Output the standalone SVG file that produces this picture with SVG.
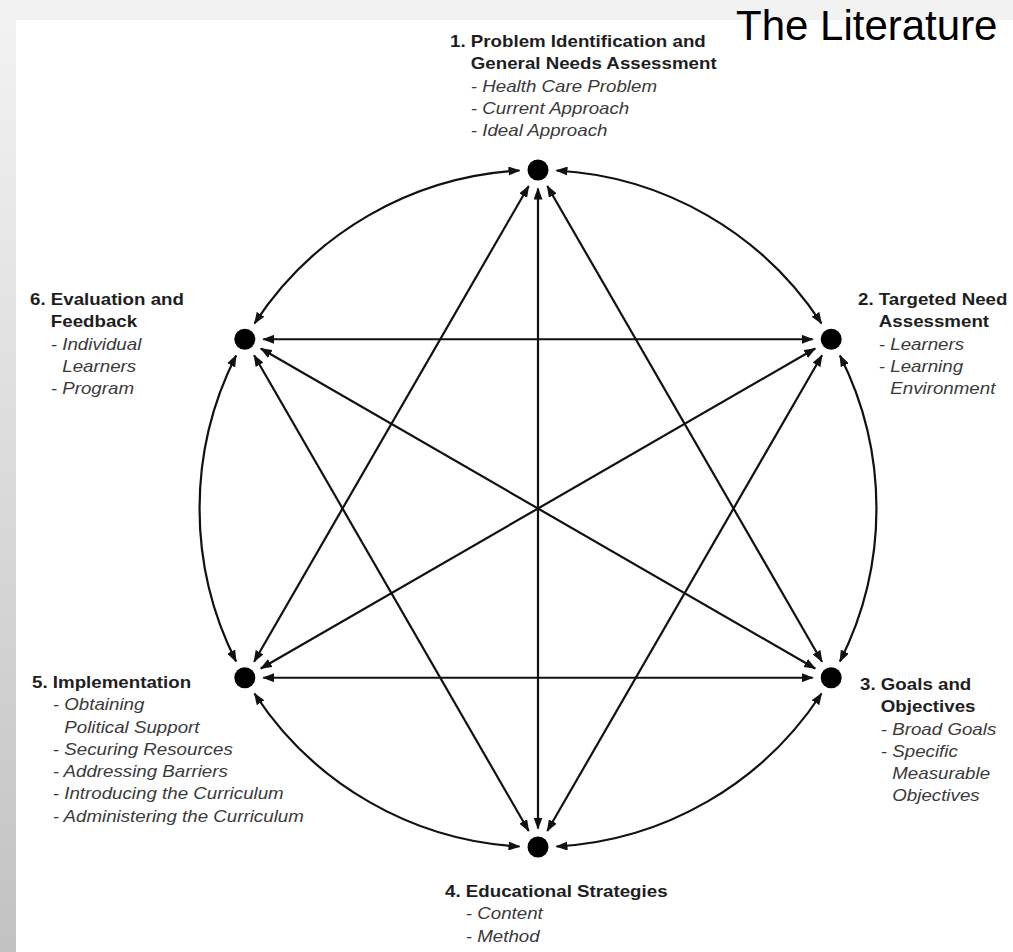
<svg xmlns="http://www.w3.org/2000/svg" width="1013" height="952" viewBox="0 0 1013 952">
<defs>
<linearGradient id="strip" x1="0" y1="0" x2="0" y2="1">
<stop offset="0" stop-color="#f3f3f3"/>
<stop offset="1" stop-color="#c2c2c2"/>
</linearGradient>
<marker id="ah" viewBox="0 0 12 9" refX="11" refY="4.5" markerWidth="12" markerHeight="9" markerUnits="userSpaceOnUse" orient="auto-start-reverse">
<path d="M0,0 L12,4.5 L0,9 z" fill="#111"/>
</marker>
<style>
.hd{font-family:"Liberation Sans",Arial,Helvetica,sans-serif;font-weight:bold;font-size:16px;fill:#1e1e1e}
.it{font-family:"Liberation Sans",Arial,Helvetica,sans-serif;font-style:italic;font-weight:normal;font-size:16px;fill:#3a3a3a}
.edge{fill:none;stroke:#111;stroke-width:2.2;marker-start:url(#ah);marker-end:url(#ah)}
.dot{fill:#000}
.title{font-family:"Liberation Sans",Arial,sans-serif;font-size:42px;fill:#000}
</style>
</defs>
<g id="background">
<rect x="0" y="0" width="1013" height="952" fill="#f2f2f2"/>
<rect x="0" y="0" width="16" height="952" fill="url(#strip)"/>
<rect x="16" y="20" width="997" height="932" fill="#ffffff"/>
</g>
<g id="title"><text class="title" x="736" y="40">The Literature</text></g>
<g id="connectors">
<path class="edge" d="M556.5,170.5 A338.5,338.5 0 0 1 821.5,323.5"/>
<path class="edge" d="M839.9,355.5 A338.5,338.5 0 0 1 839.9,661.5"/>
<path class="edge" d="M821.5,693.5 A338.5,338.5 0 0 1 556.5,846.5"/>
<path class="edge" d="M519.5,846.5 A338.5,338.5 0 0 1 254.5,693.5"/>
<path class="edge" d="M236.1,661.5 A338.5,338.5 0 0 1 236.1,355.5"/>
<path class="edge" d="M254.5,323.5 A338.5,338.5 0 0 1 519.5,170.5"/>
<path class="edge" d="M547.3,186 L822,661.7"/>
<path class="edge" d="M538,188.5 L538,828.5"/>
<path class="edge" d="M528.7,186 L254.1,661.7"/>
<path class="edge" d="M822,355.3 L547.3,831"/>
<path class="edge" d="M815.2,348.5 L260.8,668.5"/>
<path class="edge" d="M812.7,339.25 L263.3,339.25"/>
<path class="edge" d="M812.7,677.75 L263.3,677.75"/>
<path class="edge" d="M815.2,668.5 L260.8,348.5"/>
<path class="edge" d="M528.7,831 L254.1,355.3"/>
</g>
<g id="node1">
<circle class="dot" cx="538" cy="170" r="10.5"/>
<g transform="translate(450,0) scale(1.17,1)">
<text class="hd" x="0" y="47">1. Problem Identification and</text>
<text class="hd" x="17.8" y="69.3">General Needs Assessment</text>
<text class="it" x="17.8" y="91.6">- Health Care Problem</text>
<text class="it" x="17.8" y="113.9">- Current Approach</text>
<text class="it" x="17.8" y="136.2">- Ideal Approach</text>
</g>
</g>
<g id="node2">
<circle class="dot" cx="831.2" cy="339.25" r="10.5"/>
<g transform="translate(858,0) scale(1.17,1)">
<text class="hd" x="0" y="305">2. Targeted Need</text>
<text class="hd" x="17.8" y="327.3">Assessment</text>
<text class="it" x="17.8" y="349.6">- Learners</text>
<text class="it" x="17.8" y="371.9">- Learning</text>
<text class="it" x="27.6" y="394.2">Environment</text>
</g>
</g>
<g id="node3">
<circle class="dot" cx="831.2" cy="677.75" r="10.5"/>
<g transform="translate(860,0) scale(1.17,1)">
<text class="hd" x="0" y="690">3. Goals and</text>
<text class="hd" x="17.8" y="712.3">Objectives</text>
<text class="it" x="17.8" y="734.6">- Broad Goals</text>
<text class="it" x="17.8" y="756.9">- Specific</text>
<text class="it" x="27.6" y="779.2">Measurable</text>
<text class="it" x="27.6" y="801.5">Objectives</text>
</g>
</g>
<g id="node4">
<circle class="dot" cx="538" cy="847" r="10.5"/>
<g transform="translate(445,0) scale(1.17,1)">
<text class="hd" x="0" y="897">4. Educational Strategies</text>
<text class="it" x="17.8" y="919.3">- Content</text>
<text class="it" x="17.8" y="941.6">- Method</text>
</g>
</g>
<g id="node5">
<circle class="dot" cx="244.8" cy="677.75" r="10.5"/>
<g transform="translate(32,0) scale(1.17,1)">
<text class="hd" x="0" y="688">5. Implementation</text>
<text class="it" x="17.8" y="710.3">- Obtaining</text>
<text class="it" x="27.6" y="732.6">Political Support</text>
<text class="it" x="17.8" y="754.9">- Securing Resources</text>
<text class="it" x="17.8" y="777.2">- Addressing Barriers</text>
<text class="it" x="17.8" y="799.5">- Introducing the Curriculum</text>
<text class="it" x="17.8" y="821.8">- Administering the Curriculum</text>
</g>
</g>
<g id="node6">
<circle class="dot" cx="244.8" cy="339.25" r="10.5"/>
<g transform="translate(30,0) scale(1.17,1)">
<text class="hd" x="0" y="305">6. Evaluation and</text>
<text class="hd" x="17.8" y="327.3">Feedback</text>
<text class="it" x="17.8" y="349.6">- Individual</text>
<text class="it" x="27.6" y="371.9">Learners</text>
<text class="it" x="17.8" y="394.2">- Program</text>
</g>
</g>
</svg>
